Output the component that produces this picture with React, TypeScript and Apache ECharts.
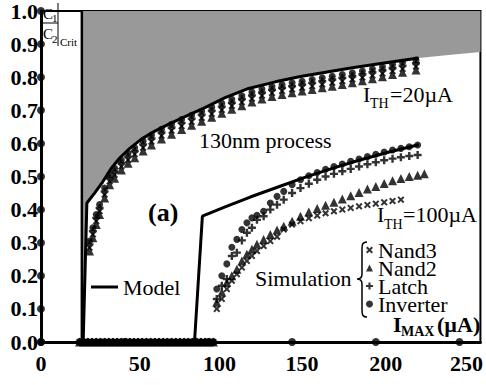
import React, { useEffect, useRef } from "react";
import * as echarts from "echarts";

const FONT = "Liberation Serif";

// Axis ticks
const xTickValues = [0, 50, 100, 150, 200, 250];
const yTickValues = [0, 0.1, 0.2, 0.3, 0.4, 0.5, 0.6, 0.7, 0.8, 0.9, 1.0];

// Critical boundary (upper grey region) for I_TH = 20uA
const critBorderX = 24.4;
const critBoundary: number[][] = [
  [24.4, 0], [25.6, 0], [27.4, 0.42], [32, 0.45], [36.9, 0.484], [42, 0.525], [47, 0.556],
  [53, 0.585], [60, 0.613], [68, 0.637], [77, 0.66], [87, 0.683], [97, 0.706], [110, 0.738],
  [124, 0.766], [140, 0.786], [155, 0.802], [170, 0.815], [185, 0.828], [205, 0.843],
  [225.6, 0.858], [245, 0.868], [262.5, 0.876],
];

// Model curves
const model20: number[][] = [
  [25.2, 0], [27.4, 0.42], [32, 0.45], [36.9, 0.484], [42, 0.525], [47, 0.556], [53, 0.585],
  [60, 0.613], [68, 0.637], [77, 0.66], [87, 0.683], [97, 0.706], [110, 0.738], [124, 0.766],
  [140, 0.786], [155, 0.802], [170, 0.815], [185, 0.828], [205, 0.843], [225.6, 0.858],
];
const model100: number[][] = [
  [91.7, 0], [96.4, 0.38], [110, 0.408], [125, 0.438], [142, 0.469], [158, 0.498],
  [175, 0.526], [190, 0.549], [208, 0.574], [225.6, 0.596],
];

// Simulation points at zero level (below threshold)
const zeroLevelX = [23, 25.5, 28, 30.5, 33, 35.5, 38, 40.5, 43, 45.5, 48, 50.5, 53, 55.5, 58, 60.5,
  63, 65.5, 68, 70.5, 73, 75.5, 78, 80.5, 83, 85.5, 88, 90.5, 93, 95.5, 98, 100.5, 103];

// I_TH = 20uA simulation group
const xA = [29, 31, 33, 35, 38, 41, 44, 48, 52, 56, 61, 66, 72, 78, 84, 90, 96, 102, 108, 114,
  120, 126, 132, 138, 144, 150, 156, 162, 168, 174, 180, 186, 192, 198, 204, 210, 216, 224];
const inverterA = [0.305, 0.345, 0.385, 0.415, 0.465, 0.505, 0.525, 0.55, 0.57, 0.587, 0.607, 0.625,
  0.643, 0.658, 0.672, 0.685, 0.697, 0.709, 0.721, 0.733, 0.744, 0.755, 0.764, 0.772, 0.778, 0.783,
  0.788, 0.793, 0.798, 0.803, 0.808, 0.813, 0.819, 0.825, 0.831, 0.838, 0.845, 0.852];
const latchA = [0.295, 0.335, 0.375, 0.405, 0.455, 0.495, 0.515, 0.54, 0.56, 0.577, 0.597, 0.615,
  0.633, 0.648, 0.662, 0.675, 0.687, 0.699, 0.711, 0.723, 0.734, 0.745, 0.754, 0.762, 0.768, 0.773,
  0.778, 0.783, 0.788, 0.793, 0.798, 0.803, 0.809, 0.815, 0.821, 0.828, 0.835, 0.842];
const nand3A = [0.285, 0.325, 0.365, 0.395, 0.445, 0.485, 0.505, 0.53, 0.55, 0.567, 0.587, 0.605,
  0.623, 0.638, 0.652, 0.665, 0.677, 0.689, 0.701, 0.713, 0.724, 0.735, 0.744, 0.752, 0.758, 0.763,
  0.768, 0.773, 0.778, 0.783, 0.788, 0.793, 0.799, 0.805, 0.811, 0.818, 0.825, 0.832];
const nand2A = [0.275, 0.315, 0.355, 0.385, 0.435, 0.475, 0.495, 0.52, 0.54, 0.557, 0.577, 0.595,
  0.613, 0.628, 0.642, 0.655, 0.667, 0.679, 0.691, 0.703, 0.714, 0.725, 0.734, 0.742, 0.748, 0.753,
  0.758, 0.763, 0.768, 0.773, 0.778, 0.783, 0.789, 0.795, 0.801, 0.808, 0.815, 0.822];

// I_TH = 100uA simulation group
const xB = [105, 108, 111, 114, 117, 120, 123, 126, 129, 133, 137, 141, 145, 150, 155, 160, 165,
  170, 175, 180, 185, 190, 195, 200, 205, 210, 215, 220, 225, 229];
const inverterB = [0.16, 0.2, 0.236, 0.286, 0.31, 0.34, 0.36, 0.375, 0.383, 0.395, 0.42, 0.44, 0.455,
  0.475, 0.49, 0.502, 0.512, 0.522, 0.53, 0.538, 0.546, 0.553, 0.56, 0.567, 0.574, 0.58, 0.585, 0.59,
  0.595, null];
const latchB = [0.13, 0.17, 0.19, 0.26, 0.27, 0.307, 0.33, 0.345, 0.369, 0.38, 0.4, 0.415, 0.43, 0.45,
  0.465, 0.478, 0.49, 0.5, 0.508, 0.516, 0.523, 0.53, 0.537, 0.543, 0.549, 0.554, 0.558, 0.562, 0.565,
  null];
const nand2B = [0.12, 0.15, 0.18, 0.2, 0.22, 0.245, 0.265, 0.28, 0.295, 0.31, 0.325, 0.338, 0.35,
  0.365, 0.38, 0.393, 0.403, 0.413, 0.422, 0.432, 0.442, 0.452, 0.462, 0.47, 0.479, 0.487, 0.494, 0.5,
  0.504, 0.508];
const nand3B = [0.1, 0.13, 0.16, 0.185, 0.205, 0.225, 0.245, 0.26, 0.275, 0.29, 0.305, 0.318, 0.34,
  0.355, 0.365, 0.374, 0.382, 0.389, 0.395, 0.4, 0.405, 0.41, 0.414, 0.418, 0.422, 0.426, 0.43, null,
  null, null];

const pairs = (xs: number[], ys: (number | null)[]) =>
  xs.map((x, i) => [x, ys[i]]).filter((p) => p[1] !== null);
const zeros = zeroLevelX.map((x) => [x, 0]);

const SYM_CROSS = "path://M3.5,0H6.5V3.5H10V6.5H6.5V10H3.5V6.5H0V3.5H3.5Z";
const SYM_X = "path://M0,2L2,0L5,3L8,0L10,2L7,5L10,8L8,10L5,7L2,10L0,8L3,5Z";

const BRACE = "M10,0 C5,0 5,3 5,8 L5,32 C5,36 3,37 0,37 C3,37 5,38 5,42 L5,67 C5,72 5,75 10,75";

const xLabelShift: Record<number, number> = { 0: 0, 50: 30, 100: 22, 150: 20, 200: 20, 250: 14 };

export default function App() {
  const ref = useRef<HTMLDivElement>(null);
  useEffect(() => {
    if (!ref.current) return;
    echarts.graphic.registerShape("brace", echarts.graphic.extendPath(BRACE, {}));
    const chart = echarts.init(ref.current, null, { renderer: "svg" });
    const rich: Record<string, any> = {};
    xTickValues.forEach((v) => {
      rich["t" + v] = {
        fontFamily: FONT, fontSize: 22, fontWeight: "bold", color: "#000",
        padding: [0, 0, 0, xLabelShift[v] || 0],
      };
    });
    const txt = (text: string, x: number, y: number, size: number, bold = false) => ({
      type: "text", x, y, z: 10,
      style: {
        text, fill: "#000", fontFamily: FONT, fontSize: size,
        fontWeight: bold ? "bold" : "normal", align: "left", verticalAlign: "middle",
      },
    });
    const scatterBase = { type: "scatter", clip: false, z: 3, itemStyle: { color: "#000" } };
    chart.setOption({
      animation: false,
      textStyle: { fontFamily: FONT },
      grid: { left: 41, right: 4, top: 3, bottom: 43, show: true, borderColor: "#000", borderWidth: 2 },
      xAxis: {
        type: "value", min: 0, max: 262.5, interval: 50,
        axisLine: { lineStyle: { color: "#000", width: 3 } },
        axisTick: { show: false }, splitLine: { show: false },
        axisLabel: {
          showMaxLabel: false, margin: 10,
          fontFamily: FONT, fontSize: 22, fontWeight: "bold", color: "#000",
          formatter: (v: number) => (xTickValues.includes(v) ? `{t${v}|${v}}` : ""),
          rich,
        },
      },
      yAxis: {
        type: "value", min: 0, max: 1, interval: 0.1,
        axisLine: { lineStyle: { color: "#000", width: 3 } },
        axisTick: { show: false }, splitLine: { show: false },
        axisLabel: {
          margin: 3, padding: [4, 0, 0, 0],
          formatter: (v: number) => v.toFixed(1),
          fontFamily: FONT, fontSize: 22, fontWeight: "bold", color: "#000",
        },
      },
      legend: [
        {
          data: ["Nand3", "Nand2", "Latch", "Inverter"], orient: "vertical",
          left: 366, top: 239, padding: 0, itemGap: -4, itemWidth: 7, itemHeight: 7,
          selectedMode: false,
          textStyle: { fontFamily: FONT, fontSize: 22, color: "#000" },
        },
        {
          data: ["Model"], left: 91, top: 276, padding: 0, itemWidth: 27, itemHeight: 3,
          icon: "rect", selectedMode: false,
          textStyle: { fontFamily: FONT, fontSize: 22, color: "#000" },
        },
      ],
      series: [
        {
          name: "Critical region", type: "line", data: critBoundary, showSymbol: false, z: 1,
          lineStyle: { width: 0 }, areaStyle: { origin: "end", color: "#999999", opacity: 1 },
          silent: true,
        },
        {
          name: "Critical border", type: "line", data: [[critBorderX, 0], [critBorderX, 1]],
          showSymbol: false, z: 2, lineStyle: { color: "#000", width: 2.5 }, silent: true,
        },
        {
          name: "Model", type: "line", data: model20, showSymbol: false, z: 2,
          itemStyle: { color: "#000" }, lineStyle: { color: "#000", width: 3 },
        },
        {
          name: "Model", type: "line", data: model100, showSymbol: false, z: 2,
          itemStyle: { color: "#000" }, lineStyle: { color: "#000", width: 3 },
        },
        {
          ...scatterBase, name: "Nand3", symbol: SYM_X, symbolSize: 7,
          data: [...zeros, ...pairs(xA, nand3A), ...pairs(xB, nand3B)],
        },
        {
          ...scatterBase, name: "Nand2", symbol: "triangle", symbolSize: 9,
          data: [...zeros, ...pairs(xA, nand2A), ...pairs(xB, nand2B)],
        },
        {
          ...scatterBase, name: "Latch", symbol: SYM_CROSS, symbolSize: 8,
          data: [...zeros, ...pairs(xA, latchA), ...pairs(xB, latchB)],
        },
        {
          ...scatterBase, name: "Inverter", symbol: "circle", symbolSize: 7,
          data: [...zeros, ...pairs(xA, inverterA), ...pairs(xB, inverterB)],
        },
        {
          name: "ticks", type: "scatter", clip: false, z: 4, symbol: "circle", symbolSize: 8,
          itemStyle: { color: "#000" }, silent: true,
          data: [...xTickValues.map((v) => [v, 0]), ...yTickValues.map((v) => [0, v])],
        },
      ],
      graphic: [
        // C1/C2 crit label
        { type: "line", z: 10, shape: { x1: 42, y1: 23, x2: 58, y2: 23 }, style: { stroke: "#000", lineWidth: 1 } },
        { type: "line", z: 10, shape: { x1: 58, y1: 3, x2: 58, y2: 46 }, style: { stroke: "#000", lineWidth: 1 } },
        txt("C", 43, 14, 15),
        txt("1", 52, 18, 11),
        txt("C", 43, 34, 15),
        txt("2", 52, 39, 11),
        txt("Crit", 60, 42, 11),
        txt("130nm process", 199, 140, 22),
        txt("(a)", 148, 212, 26, true),
        // I_TH = 20uA
        txt("I", 363, 94, 22),
        txt("TH", 370, 103, 14),
        txt("=20µA", 390, 94, 22),
        // I_TH = 100uA
        txt("I", 377, 214, 22),
        txt("TH", 384, 224, 14),
        txt("=100µA", 403, 214, 22),
        txt("Simulation", 255, 278, 22),
        {
          type: "brace", x: 357, y: 242, z: 10,
          style: { fill: "none", stroke: "#000", lineWidth: 1.5 },
        },
        // axis title
        txt("I", 393, 324, 22, true),
        txt("MAX", 401, 331, 14, true),
        txt("(µA)", 437, 324, 22, true),
      ],
    });
    return () => chart.dispose();
  }, []);
  return (
    <div
      ref={ref}
      style={{ position: "fixed", left: 0, top: 0, width: 486, height: 385, background: "#fff" }}
    />
  );
}
